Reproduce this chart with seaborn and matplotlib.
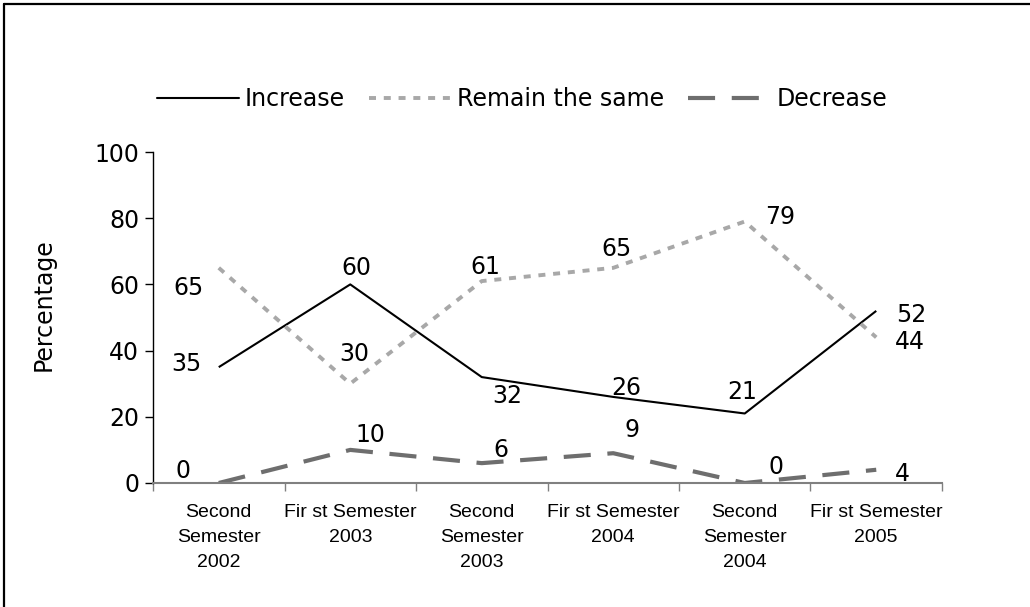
import matplotlib
matplotlib.use("Agg")
import matplotlib.pyplot as plt
from matplotlib.lines import Line2D
import seaborn as sns
import pandas as pd

# Survey periods and the share (%) of answers in each category
periods = [
    "Second\nSemester\n2002",
    "Fir st Semester\n2003",
    "Second\nSemester\n2003",
    "Fir st Semester\n2004",
    "Second\nSemester\n2004",
    "Fir st Semester\n2005",
]
increase = [35, 60, 32, 26, 21, 52]
remain_same = [65, 30, 61, 65, 79, 44]
decrease = [0, 10, 6, 9, 0, 4]
y_ticks = [0, 20, 40, 60, 80, 100]

sns.set_theme(style="white")
plt.rcParams["font.family"] = ["DejaVu Sans"]
plt.rcParams["text.color"] = "black"
plt.rcParams["axes.labelcolor"] = "black"
plt.rcParams["xtick.labelcolor"] = "black"
plt.rcParams["ytick.labelcolor"] = "black"

W, H, DPI = 1030, 607, 100
fig = plt.figure(figsize=(W / DPI, H / DPI), dpi=DPI)
ax = fig.add_axes([153 / W, 1 - 483 / H, (942 - 153) / W, (483 - 152) / H])

df = pd.DataFrame({
    "x": list(range(len(periods))) * 3,
    "value": increase + remain_same + decrease,
    "series": ["Increase"] * 6 + ["Remain the same"] * 6 + ["Decrease"] * 6,
})

styles = {
    "Increase": dict(color="black", lw=1.5, dashes=None),
    "Remain the same": dict(color="#A8A8A8", lw=2.8, dashes=(1.8, 2.0)),
    "Decrease": dict(color="#6E6E6E", lw=3.0, dashes=(6.5, 4.0)),
}

handles = []
for name, st in styles.items():
    sub = df[df["series"] == name]
    sns.lineplot(data=sub, x="x", y="value", ax=ax, color=st["color"],
                 linewidth=st["lw"], legend=False, sort=False)
    line = ax.lines[-1]
    if st["dashes"] is not None:
        line.set_dashes(st["dashes"])
    line.set_solid_capstyle("butt")
    line.set_dash_capstyle("butt")
    h = Line2D([], [], color=st["color"], lw=st["lw"], label=name)
    if st["dashes"] is not None:
        h.set_dashes(st["dashes"])
    handles.append(h)

# Value labels, nudged away from the lines (offsets in pixels)
offsets = {
    "Increase": [(-32, 6), (6, 19), (26, -16), (13, 11), (-3, 24), (35, -2)],
    "Remain the same": [(-30, -18), (4, 32), (4, 17), (3, 21), (35, 7), (34, -2)],
    "Decrease": [(-36, 14), (20, 17), (19, 16), (19, 26), (31, 18), (26, -2)],
}
series_vals = {"Increase": increase, "Remain the same": remain_same,
               "Decrease": decrease}
for name, vals in series_vals.items():
    for i, v in enumerate(vals):
        ax.annotate(f"{v}", xy=(i, v), xytext=offsets[name][i],
                    textcoords="offset pixels", ha="center",
                    va="center_baseline", fontsize=17, color="black")

ax.set_xlim(-0.5, len(periods) - 0.5)
ax.set_ylim(0, 100)
ax.set_yticks(y_ticks)
ax.set_yticklabels([str(t) for t in y_ticks], fontsize=17)

# Category boundaries carry the tick marks; labels sit in the middle
ax.set_xticks([i - 0.5 for i in range(len(periods) + 1)])
ax.set_xticklabels([])
ax.set_xticks(range(len(periods)), minor=True)
ax.set_xticklabels(periods, minor=True, fontsize=14,
                   family=["Liberation Sans", "DejaVu Sans"], linespacing=1.62)
ax.tick_params(axis="x", which="major", direction="out", length=6,
               width=1, color="#808080", bottom=True)
ax.tick_params(axis="x", which="minor", length=0, pad=15, bottom=True)
ax.tick_params(axis="y", direction="out", length=6, width=1,
               color="black", left=True, pad=4)

for s in ["top", "right"]:
    ax.spines[s].set_visible(False)
ax.spines["left"].set_color("black")
ax.spines["left"].set_linewidth(1)
ax.spines["bottom"].set_color("#808080")
ax.spines["bottom"].set_linewidth(1.5)
ax.grid(False)

ax.set_xlabel("")
ax.set_ylabel("Percentage", fontsize=17)
ax.yaxis.set_label_coords(-0.124, 0.538)

fig.legend(handles=handles, loc="center", bbox_to_anchor=(522 / W, 1 - 99 / H),
           ncol=3, frameon=False, fontsize=17, handlelength=3.5,
           handletextpad=0.25, columnspacing=1.0)

# Chart border (left and top edges)
fig.add_artist(Line2D([3.5 / W, 3.5 / W], [0, 1 - 3.5 / H],
                      transform=fig.transFigure, color="black", lw=1.6))
fig.add_artist(Line2D([3.5 / W, 1], [1 - 3.5 / H, 1 - 3.5 / H],
                      transform=fig.transFigure, color="black", lw=1.6))

fig.savefig("out.png", dpi=DPI, facecolor="white")
